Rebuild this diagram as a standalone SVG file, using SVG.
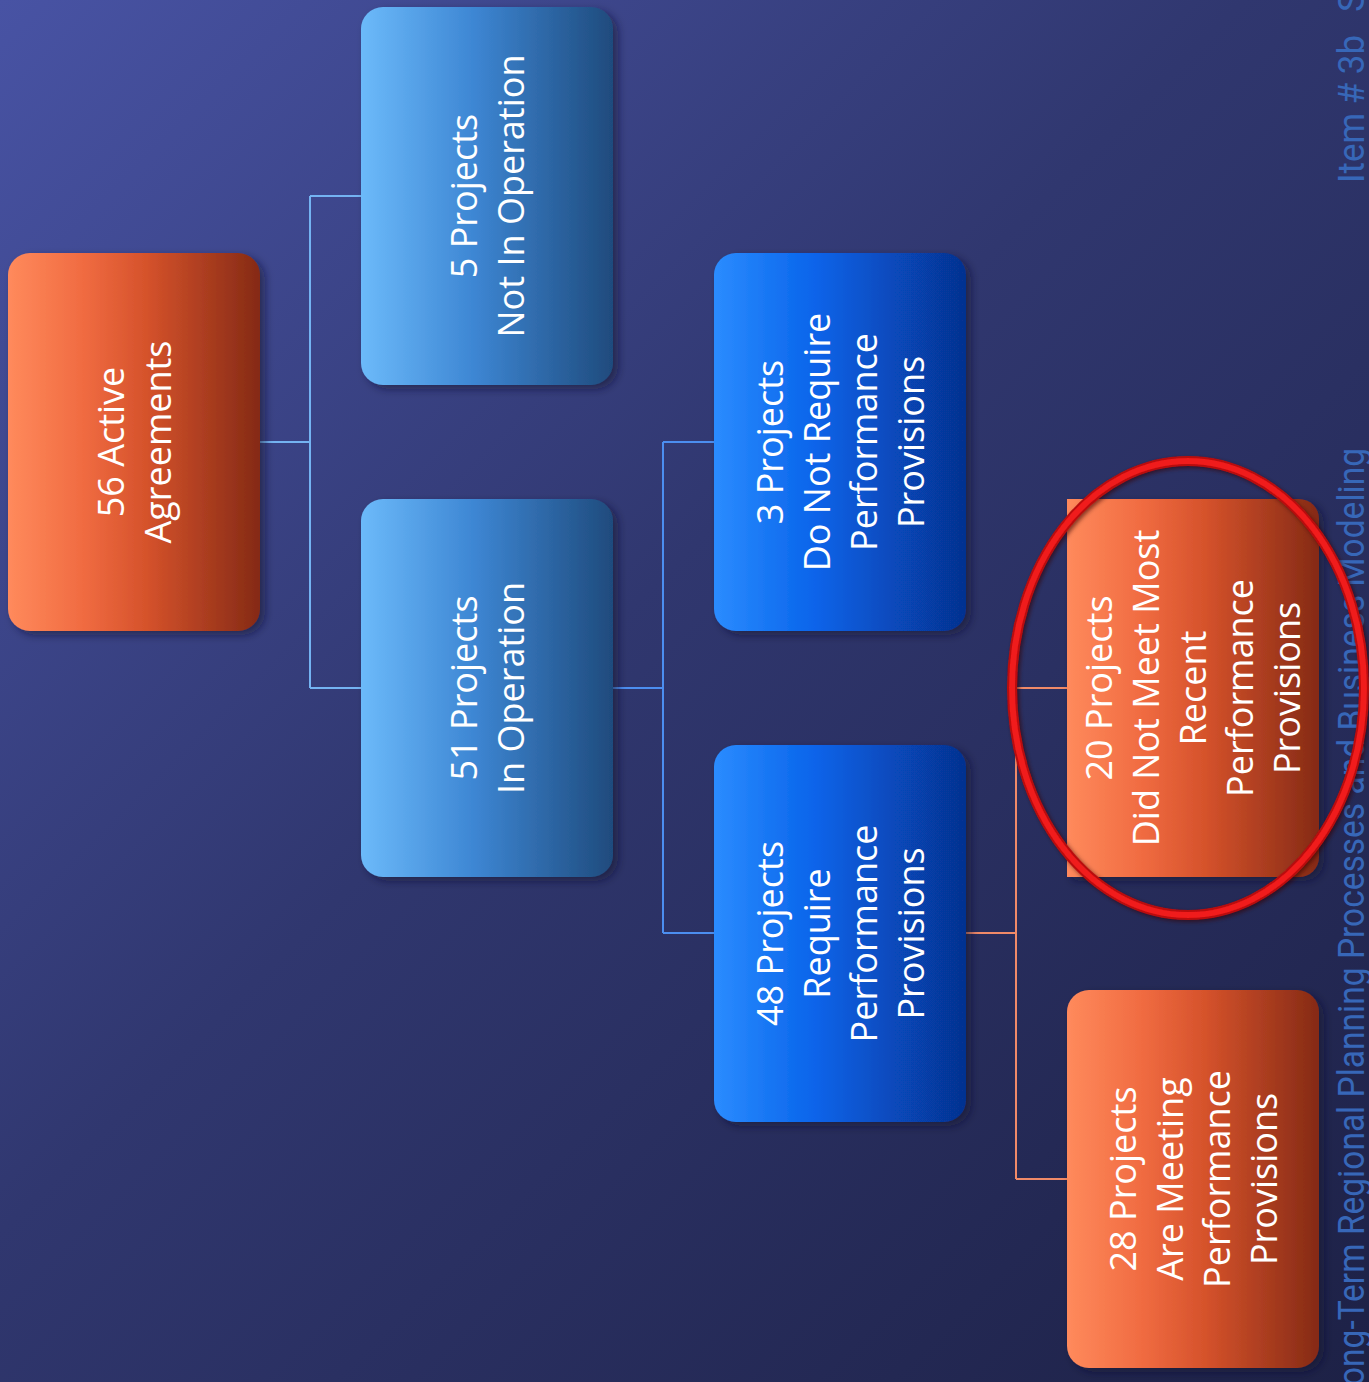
<svg xmlns="http://www.w3.org/2000/svg" width="1369" height="1382" viewBox="0 0 1369 1382">
  <defs>
    <linearGradient id="bg" x1="0" y1="0" x2="1369" y2="1382" gradientUnits="userSpaceOnUse">
      <stop offset="0" stop-color="#4853a4"/>
      <stop offset="0.45" stop-color="#30376f"/>
      <stop offset="1" stop-color="#1d2146"/>
    </linearGradient>
    <linearGradient id="gOrange" x1="0" y1="0" x2="1" y2="0">
      <stop offset="0" stop-color="#ff8a5c"/>
      <stop offset="0.3" stop-color="#f06b41"/>
      <stop offset="0.55" stop-color="#d5522b"/>
      <stop offset="1" stop-color="#852a15"/>
    </linearGradient>
    <linearGradient id="gSky" x1="0" y1="0" x2="1" y2="0">
      <stop offset="0" stop-color="#6cbafa"/>
      <stop offset="0.45" stop-color="#3d86d3"/>
      <stop offset="1" stop-color="#1f4b7d"/>
    </linearGradient>
    <linearGradient id="gBlue" x1="0" y1="0" x2="1" y2="0">
      <stop offset="0" stop-color="#2b8cff"/>
      <stop offset="0.4" stop-color="#0864ea"/>
      <stop offset="1" stop-color="#063190"/>
    </linearGradient>
    <filter id="shadow" x="-10%" y="-10%" width="125%" height="125%">
      <feDropShadow dx="5" dy="4" stdDeviation="4" flood-color="#0e1230" flood-opacity="0.55"/>
    </filter>
    <filter id="ringShadow" x="-10%" y="-10%" width="120%" height="120%">
      <feDropShadow dx="2" dy="2" stdDeviation="2" flood-color="#300000" flood-opacity="0.6"/>
    </filter>
  </defs>
  <style>
    .box { filter: url(#shadow); }
    .lbl { font-family: "Open Sans", "Noto Sans", sans-serif; font-size: 36px; fill: #ffffff; text-anchor: middle; }
    .wm { font-family: Roboto, "Liberation Sans", sans-serif; font-size: 36px; fill: #3767b8; }
    .c1 { stroke: #74b3f2; stroke-width: 2; fill: none; }
    .c2 { stroke: #4c8ef0; stroke-width: 2; fill: none; }
    .c3 { stroke: #f08a68; stroke-width: 2; fill: none; }
  </style>

  <!-- backdrop -->
  <rect x="0" y="0" width="1369" height="1382" fill="url(#bg)"/>

  <!-- side captions running up the right edge -->
  <g id="side-captions">
    <text class="wm" transform="translate(1364 0) rotate(-90)"><tspan x="-183" y="0" textLength="148" lengthAdjust="spacingAndGlyphs">Item # 3b</tspan><tspan x="-12" y="0">S</tspan></text>
    <text class="wm" transform="translate(1364 0) rotate(-90)" x="-1386" y="0" textLength="938" lengthAdjust="spacingAndGlyphs">ong-Term Regional Planning Processes and Business Modeling</text>
  </g>

  <!-- tree connectors -->
  <g id="connectors">
    <path class="c1" d="M260 442 H310 M310 196 V688 M310 196 H361 M310 688 H361"/>
    <path class="c2" d="M613 688 H663 M663 442 V933 M663 442 H714 M663 933 H714"/>
    <path class="c3" d="M966 933 H1016 M1016 688 V1179 M1016 688 H1067 M1016 1179 H1067"/>
  </g>

  <g id="node-active">
    <rect class="box" x="8" y="253" width="252" height="378" rx="22" fill="url(#gOrange)"/>
    <text class="lbl" transform="translate(134 442) rotate(-90)"><tspan x="0" y="-10.5">56 Active</tspan><tspan x="0" y="36.5">Agreements</tspan></text>
  </g>

  <g id="node-not-operating">
    <rect class="box" x="361" y="7" width="252" height="378" rx="22" fill="url(#gSky)"/>
    <text class="lbl" transform="translate(487 196) rotate(-90)"><tspan x="0" y="-10.5">5 Projects</tspan><tspan x="0" y="36.5">Not In Operation</tspan></text>
  </g>

  <g id="node-operating">
    <rect class="box" x="361" y="499" width="252" height="378" rx="22" fill="url(#gSky)"/>
    <text class="lbl" transform="translate(487 688) rotate(-90)"><tspan x="0" y="-10.5">51 Projects</tspan><tspan x="0" y="36.5">In Operation</tspan></text>
  </g>

  <g id="node-not-required">
    <rect class="box" x="714" y="253" width="252" height="378" rx="22" fill="url(#gBlue)"/>
    <text class="lbl" transform="translate(840 442) rotate(-90)"><tspan x="0" y="-57.5">3 Projects</tspan><tspan x="0" y="-10.5">Do Not Require</tspan><tspan x="0" y="36.5">Performance</tspan><tspan x="0" y="83.5">Provisions</tspan></text>
  </g>

  <g id="node-required">
    <rect class="box" x="714" y="745" width="252" height="377" rx="22" fill="url(#gBlue)"/>
    <text class="lbl" transform="translate(840 933.5) rotate(-90)"><tspan x="0" y="-57.5">48 Projects</tspan><tspan x="0" y="-10.5">Require</tspan><tspan x="0" y="36.5">Performance</tspan><tspan x="0" y="83.5">Provisions</tspan></text>
  </g>

  <g id="node-not-meeting">
    <path class="box" d="M1067 499 H1299 A20 20 0 0 1 1319 519 V857 A20 20 0 0 1 1299 877 H1067 Z" fill="url(#gOrange)"/>
    <text class="lbl" transform="translate(1193 688) rotate(-90)"><tspan x="0" y="-81">20 Projects</tspan><tspan x="0" y="-34">Did Not Meet Most</tspan><tspan x="0" y="13">Recent</tspan><tspan x="0" y="60">Performance</tspan><tspan x="0" y="107">Provisions</tspan></text>
  </g>

  <g id="node-meeting">
    <rect class="box" x="1067" y="990" width="252" height="378" rx="22" fill="url(#gOrange)"/>
    <text class="lbl" transform="translate(1193 1179) rotate(-90)"><tspan x="0" y="-57.5">28 Projects</tspan><tspan x="0" y="-10.5">Are Meeting</tspan><tspan x="0" y="36.5">Performance</tspan><tspan x="0" y="83.5">Provisions</tspan></text>
  </g>

  <!-- hand-drawn style highlight ring -->
  <g id="highlight-ring" filter="url(#ringShadow)">
    <ellipse cx="1188" cy="688" rx="176" ry="227" fill="none" stroke="#b80c10" stroke-width="10"/>
    <ellipse cx="1188" cy="688" rx="176" ry="227" fill="none" stroke="#f01a1a" stroke-width="6"/>
  </g>
</svg>
